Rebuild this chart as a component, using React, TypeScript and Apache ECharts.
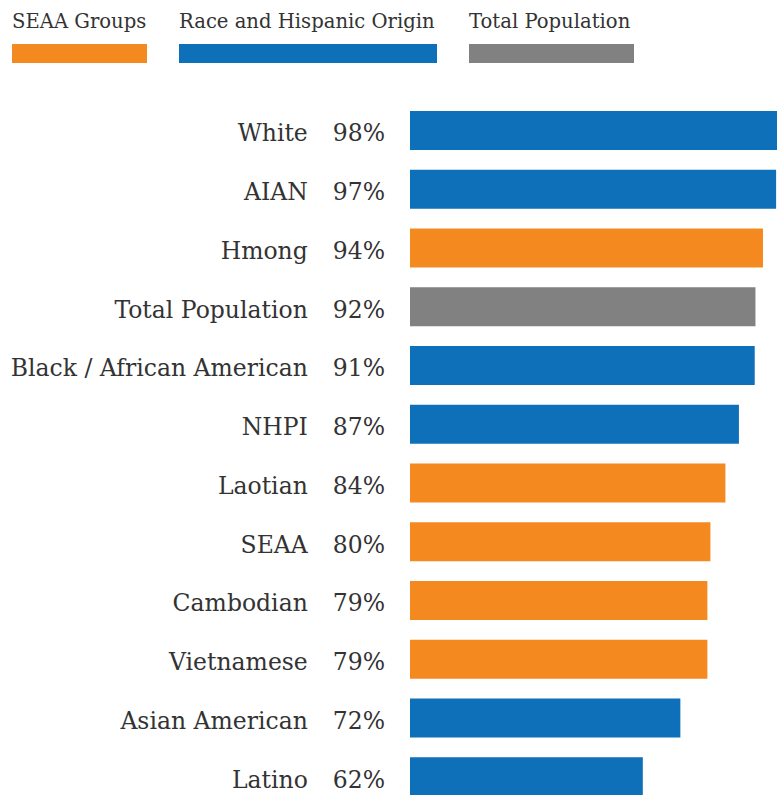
import React, { useEffect, useRef } from "react";
import * as echarts from "echarts";

const categories = [
  "White",
  "AIAN",
  "Hmong",
  "Total Population",
  "Black / African American",
  "NHPI",
  "Laotian",
  "SEAA",
  "Cambodian",
  "Vietnamese",
  "Asian American",
  "Latino",
];
const values = [98, 97.5, 94, 92, 91.8, 87.6, 84, 80, 79.2, 79.2, 72, 62];
const valueLabels = ["98%", "97%", "94%", "92%", "91%", "87%", "84%", "80%", "79%", "79%", "72%", "62%"];
const groups = ["race", "race", "seaa", "total", "race", "race", "seaa", "seaa", "seaa", "seaa", "race", "race"];
const legendNames = ["SEAA Groups", "Race and Hispanic Origin", "Total Population"];
const legendKeys = ["seaa", "race", "total"];

const COLORS: Record<string, string> = {
  seaa: "#F48A1F",
  race: "#0E70B8",
  total: "#808180",
};
const FONT = "'DejaVu Serif', serif";
const TEXT = "#333333";

export default function App() {
  const ref = useRef<HTMLDivElement>(null);
  useEffect(() => {
    if (!ref.current) return;
    const chart = echarts.init(ref.current, null, { renderer: "svg" });
    const legendX = [12, 179, 469];
    const legendW = [135, 258, 165];
    const graphic: any[] = [];
    legendNames.forEach((n, i) => {
      graphic.push({
        type: "text",
        left: legendX[i],
        top: 11,
        style: { text: n, fill: TEXT, font: `19.6px ${FONT}` },
      });
      graphic.push({
        type: "rect",
        left: legendX[i],
        top: 44,
        shape: { width: legendW[i], height: 19 },
        style: { fill: COLORS[legendKeys[i]] },
      });
    });
    chart.setOption({
      animation: false,
      graphic,
      grid: { left: 410, right: 4.5, top: 101, height: 705, containLabel: false },
      xAxis: {
        type: "value",
        min: 0,
        max: 100,
        show: false,
      },
      yAxis: {
        type: "category",
        data: categories,
        inverse: true,
        axisLine: { show: false },
        axisTick: { show: false },
        axisLabel: { show: false },
      },
      series: [
        {
          type: "bar",
          barWidth: 39,
          data: values.map((v, i) => ({
            value: v,
            itemStyle: { color: COLORS[groups[i]] },
            label: { formatter: `{n|${categories[i]}}{p|${valueLabels[i]}}` },
          })),
          label: {
            show: true,
            position: [-25, "50%"],
            offset: [0, 3],
            align: "right",
            verticalAlign: "middle",
            color: TEXT,
            fontFamily: FONT,
            fontSize: 23.5,
            rich: {
              n: { color: TEXT, fontFamily: FONT, fontSize: 23.5, padding: [0, 25, 0, 0] },
              p: { color: TEXT, fontFamily: FONT, fontSize: 23.5 },
            },
          },
        },
      ],
    });
    return () => chart.dispose();
  }, []);
  return (
    <div style={{ position: "fixed", left: 0, top: 0, width: 777, height: 795, overflow: "hidden", background: "#fff" }}>
      <div ref={ref} style={{ width: 790, height: 810 }} />
    </div>
  );
}
